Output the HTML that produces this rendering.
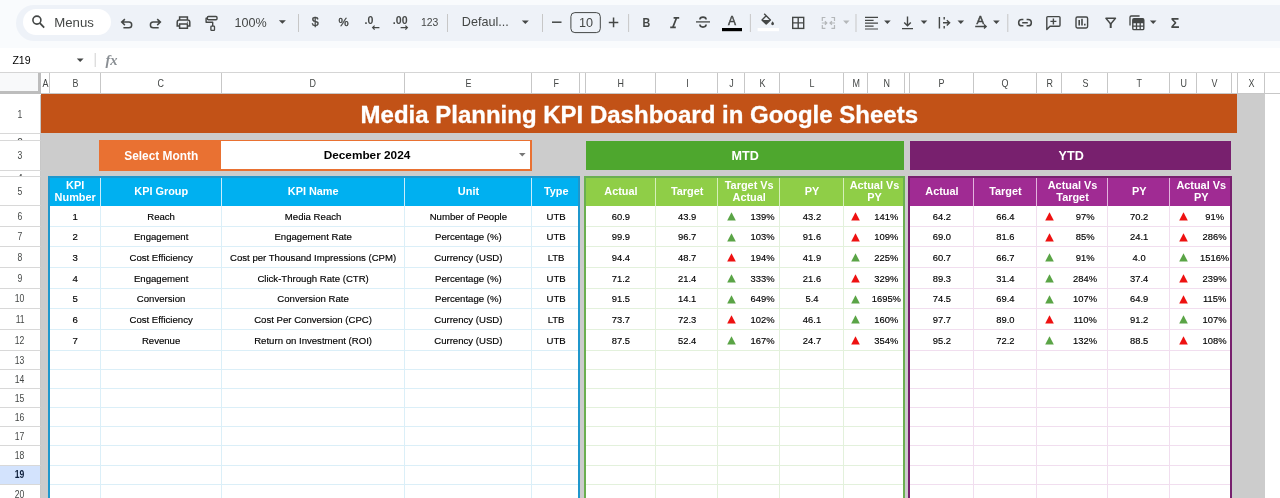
<!DOCTYPE html>
<html><head><meta charset="utf-8"><title>Media Planning KPI Dashboard</title>
<style>
html,body{margin:0;padding:0;}
body{width:1280px;height:498px;overflow:hidden;position:relative;background:#fff;font-family:"Liberation Sans",sans-serif;}
div{position:absolute;box-sizing:border-box;}
.c{display:flex;align-items:center;justify-content:center;text-align:center;white-space:nowrap;}
.ch{font-size:10.4px;color:#444746;}
.rh{font-size:10px;color:#444746;padding-top:0.8px;padding-left:0px;}
.sx{display:inline-block;transform:scaleX(0.86);}
.d{font-size:9.6px;color:#000;-webkit-text-stroke:0.15px #000;padding-left:1.2px;padding-top:0.5px;}
.n{font-size:9.4px;}
.hd{font-size:10.9px;padding-top:1px;padding-left:1.4px;font-weight:bold;color:#fff;line-height:12px;white-space:normal;}
svg{position:absolute;overflow:visible;}
.tb{font-size:12.5px;color:#444746;}
</style></head><body>

<div class="" style="left:0.00px;top:0.00px;width:1280.00px;height:72.00px;background:#f9fbfd;"></div>
<div class="" style="left:15.50px;top:5.00px;width:1274.50px;height:36.00px;background:#eef2f8;border-radius:18px 0 0 18px;"></div>
<div class="" style="left:22.50px;top:9.40px;width:88.70px;height:25.80px;background:#fff;border-radius:13px;"></div>
<div class="" style="left:0.00px;top:47.50px;width:1280.00px;height:24.50px;background:#fff;"></div>
<svg style="left:0;top:0" width="1280" height="72" viewBox="0 0 1280 72" fill="none" stroke="#444746" stroke-width="1.5" font-family="Liberation Sans, sans-serif">
<circle cx="36.9" cy="20.1" r="4.0" stroke-width="1.6"/><path d="M39.9 23.2L44.2 27.6" stroke-width="1.8"/>
<text x="54.3" y="26.6" font-size="13.2" fill="#444746" stroke="none">Menus</text>
<path d="M124.9 19.1L121.7 22.1L124.9 25.1M122.2 22.1H128.9A2.8 2.8 0 0 1 128.9 27.7H123.4" stroke-width="1.5"/>
<path d="M157.2 19.1L160.4 22.1L157.2 25.1M159.9 22.1H153.2A2.8 2.8 0 0 0 153.2 27.7H158.7" stroke-width="1.5"/>
<path d="M179.6 20V17H187.4V20M179.6 26H177.2V22.2A2.2 2.2 0 0 1 179.4 20H187.6A2.2 2.2 0 0 1 189.8 22.2V26H187.4M179.6 24H187.4V28.2H179.6Z" stroke-width="1.5"/><circle cx="187.4" cy="22.2" r="0.6" fill="#444746" stroke="none"/>
<rect x="207.4" y="16.5" width="9.6" height="3.2" rx="1" stroke-width="1.4"/><path d="M207.4 18.1H206.1V22.2H212.7V26" stroke-width="1.4" stroke-linejoin="round"/><rect x="210.9" y="26.2" width="3.6" height="4.2" rx="0.6" stroke-width="1.3"/>
<text x="234.6" y="27.2" font-size="12.6" fill="#444746" stroke="none">100%</text>
<path d="M278.9 20.3H285.9L282.4 23.8Z" fill="#444746" stroke="none"/>
<path d="M298.5 14V32" stroke="#c7c7c7" stroke-width="1"/>
<text x="315.3" y="26" font-size="12.4" fill="#444746" stroke="#444746" stroke-width="0.4" text-anchor="middle">$</text>
<text x="343.6" y="25.6" font-size="11.4" fill="#444746" stroke="#444746" stroke-width="0.4" text-anchor="middle">%</text>
<text x="364.6" y="24.2" font-size="10.6" font-weight="bold" fill="#444746" stroke="none">.0</text>
<path d="M379.4 27.6H372.6M374.6 25.6L372.6 27.6L374.6 29.6" stroke-width="1.2"/>
<text x="392.8" y="24.2" font-size="10.6" font-weight="bold" fill="#444746" stroke="none">.00</text>
<path d="M400.6 27.6H407.4M405.4 25.6L407.4 27.6L405.4 29.6" stroke-width="1.2"/>
<text x="429.7" y="25.6" font-size="10.4" fill="#444746" stroke="none" text-anchor="middle">123</text>
<path d="M447.5 14V32" stroke="#c7c7c7" stroke-width="1"/>
<text x="461.8" y="26" font-size="12.6" fill="#444746" stroke="none">Defaul...</text>
<path d="M521.8 20.5H528.8L525.3 24.0Z" fill="#444746" stroke="none"/>
<path d="M542.5 14V32" stroke="#c7c7c7" stroke-width="1"/>
<path d="M552 22.2H561.5" stroke-width="1.5"/>
<rect x="570.9" y="12.6" width="29.4" height="20" rx="4" stroke-width="1"/>
<text x="586" y="26.6" font-size="12.6" fill="#444746" stroke="none" text-anchor="middle">10</text>
<path d="M608.8 22.4H618.3M613.55 17.6V27.2" stroke-width="1.5"/>
<path d="M628.6 14V32" stroke="#c7c7c7" stroke-width="1"/>
<text transform="translate(646.3 27.1) scale(0.84 1)" x="0" y="0" font-size="12.8" font-weight="bold" fill="#444746" stroke="none" text-anchor="middle">B</text>
<path d="M673.6 17.8H679.2M670.2 27.4H675.8M676.6 17.8L672.8 27.4" stroke-width="1.7"/>
<path d="M696 21.9H710" stroke-width="1.3"/><path d="M706.1 19.6A3.1 2.5 0 0 0 699.9 19.6M699.9 24.6A3.1 2.5 0 0 0 706.1 24.6" stroke-width="1.6"/>
<text x="731.9" y="24.8" font-size="12" fill="#444746" stroke="#444746" stroke-width="0.45" text-anchor="middle">A</text>
<rect x="722" y="28" width="20" height="3.2" fill="#000" stroke="none"/>
<path d="M750.4 14V32" stroke="#c7c7c7" stroke-width="1"/>
<path d="M764.2 13.7L770.4 19.9L766.2 24.1L762 19.9L766.2 15.7" stroke-width="1.4" stroke-linejoin="round"/>
<path d="M762.2 20H770.2L766.2 24Z" fill="#444746" stroke="none"/>
<path d="M772.6 21.2C773.6 22.6 774 23.2 774 23.8A1.4 1.4 0 0 1 771.2 23.8C771.2 23.2 771.6 22.6 772.6 21.2Z" fill="#444746" stroke="none"/>
<rect x="757.6" y="28" width="21.4" height="3.2" fill="#fff" stroke="none"/>
<rect x="792.7" y="17.4" width="11" height="11" stroke-width="1.4"/><path d="M798.2 17.4V28.4M792.7 22.9H803.7" stroke-width="1.4"/>
<path d="M825.4 17.5H822.3V21M822.3 25V28.4H825.4M831.4 17.5H834.5V21M834.5 25V28.4H831.4M821.8 23H826.6M824.9 21.2L826.8 23L824.9 24.8M835 23H830.2M831.9 21.2L830 23L831.9 24.8" stroke="#b4b7b9" stroke-width="1.2"/>
<path d="M843.0999999999999 20.6H849.5L846.3 24.1Z" fill="#b4b7b9" stroke="none"/>
<path d="M856 14V32" stroke="#c7c7c7" stroke-width="1"/>
<path d="M865 17.4H878M865 20.3H873.6M865 23.2H878M865 26.1H873.6M865 29H878" stroke-width="1.2"/>
<path d="M884.1 20.6H890.6999999999999L887.4 24.1Z" fill="#444746" stroke="none"/>
<path d="M907.5 16.6V25.4M904.2 22.4L907.5 25.7L910.8 22.4M902 28.6H913" stroke-width="1.4"/>
<path d="M920.7 20.6H927.3L924 24.1Z" fill="#444746" stroke="none"/>
<path d="M939.4 17V28.6M944.2 17V19.6M944.2 26V28.6M943 22.8H949.6M946.8 20.2L949.6 22.8L946.8 25.4" stroke-width="1.4"/>
<path d="M957.5 20.6H964.0999999999999L960.8 24.1Z" fill="#444746" stroke="none"/>
<text x="980.2" y="23.9" font-size="11.4" fill="#444746" stroke="#444746" stroke-width="0.45" text-anchor="middle">A</text>
<path d="M975.2 26.5H986M984 24.5L986.2 26.5L984 28.5" stroke-width="1.3"/>
<path d="M993.1 20.6H999.6999999999999L996.4 24.1Z" fill="#444746" stroke="none"/>
<path d="M1007.8 14V32" stroke="#c7c7c7" stroke-width="1"/>
<path d="M1023.4 19.5H1021.8A3.15 3.15 0 0 0 1021.8 25.8H1023.4M1026.6 19.5H1028.2A3.15 3.15 0 0 1 1028.2 25.8H1026.6M1022.2 22.65H1027.8" stroke-width="1.5"/>
<path d="M1046.8 29.4V17.6A1 1 0 0 1 1047.8 16.6H1059A1 1 0 0 1 1060 17.6V25.2A1 1 0 0 1 1059 26.2H1050Z" stroke-width="1.4" stroke-linejoin="round"/><path d="M1050.4 21.4H1056.4M1053.4 18.4V24.4" stroke-width="1.4"/>
<rect x="1076" y="17" width="11.6" height="11" rx="1.4" stroke-width="1.4"/><path d="M1079.2 20V25.6M1082 18.8V25.6M1084.8 23.8V25.6" stroke-width="1.6"/>
<path d="M1105.9 18.3H1115.5L1110.7 24Z" stroke-width="1.4" stroke-linejoin="round"/><path d="M1110.7 23.4V28" stroke-width="2"/>
<path d="M1130 25.4V17.2A1.2 1.2 0 0 1 1131.2 16H1139.6" stroke-width="1.3"/><rect x="1132.8" y="18.8" width="11" height="10.8" rx="1.2" stroke-width="1.4"/>
<path d="M1132.8 22.6H1143.8M1132.8 26.1H1143.8M1136.5 22.4V29.6M1140.2 22.4V29.6" stroke-width="1.3"/><rect x="1132.8" y="18.8" width="11" height="3.6" fill="#444746" stroke="none"/>
<path d="M1149.9 20.6H1156.5L1153.2 24.1Z" fill="#444746" stroke="none"/>
<text x="1175" y="28.2" font-size="14.4" fill="#444746" stroke="none" text-anchor="middle" font-weight="bold">Σ</text>
<text x="12.4" y="63.7" font-size="10.6" fill="#000" stroke="none">Z19</text>
<path d="M76.8 58.5H83.60000000000001L80.2 62.0Z" fill="#444746" stroke="none"/>
<path d="M95.2 53V67" stroke="#d0d0d0" stroke-width="1"/>
<text x="105.4" y="64.6" font-size="14.6" font-style="italic" font-weight="bold" font-family="Liberation Serif, serif" fill="#8a8f94" stroke="none">fx</text>
</svg>
<div class="" style="left:0.00px;top:72.00px;width:1280.00px;height:426.00px;background:#fff;"></div>
<div class="" style="left:0.00px;top:72.00px;width:1280.00px;height:21.50px;background:#fff;border-top:1px solid #d5d5d5;border-bottom:1px solid #c7c7c7;"></div>
<div class="" style="left:0.00px;top:72.50px;width:41.20px;height:21.50px;background:#f8f9fa;border-right:3.6px solid #bdbdbd;border-bottom:3.6px solid #bdbdbd;"></div>
<div class="c ch" style="left:41.70px;top:73.40px;width:8.00px;height:20.80px;"><span class="sx">A</span></div>
<div class="" style="left:48.75px;top:73.00px;width:1.00px;height:20.00px;background:#c7c7c7;"></div>
<div class="c ch" style="left:49.70px;top:73.40px;width:51.00px;height:20.80px;"><span class="sx">B</span></div>
<div class="" style="left:99.75px;top:73.00px;width:1.00px;height:20.00px;background:#c7c7c7;"></div>
<div class="c ch" style="left:100.70px;top:73.40px;width:121.00px;height:20.80px;"><span class="sx">C</span></div>
<div class="" style="left:220.75px;top:73.00px;width:1.00px;height:20.00px;background:#c7c7c7;"></div>
<div class="c ch" style="left:221.70px;top:73.40px;width:183.00px;height:20.80px;"><span class="sx">D</span></div>
<div class="" style="left:403.75px;top:73.00px;width:1.00px;height:20.00px;background:#c7c7c7;"></div>
<div class="c ch" style="left:404.70px;top:73.40px;width:127.50px;height:20.80px;"><span class="sx">E</span></div>
<div class="" style="left:531.25px;top:73.00px;width:1.00px;height:20.00px;background:#c7c7c7;"></div>
<div class="c ch" style="left:532.20px;top:73.40px;width:48.00px;height:20.80px;"><span class="sx">F</span></div>
<div class="" style="left:579.25px;top:73.00px;width:1.00px;height:20.00px;background:#c7c7c7;"></div>
<div class="c ch" style="left:580.20px;top:73.40px;width:5.50px;height:20.80px;"><span class="sx"></span></div>
<div class="" style="left:584.75px;top:73.00px;width:1.00px;height:20.00px;background:#c7c7c7;"></div>
<div class="c ch" style="left:585.70px;top:73.40px;width:70.50px;height:20.80px;"><span class="sx">H</span></div>
<div class="" style="left:655.25px;top:73.00px;width:1.00px;height:20.00px;background:#c7c7c7;"></div>
<div class="c ch" style="left:656.20px;top:73.40px;width:62.00px;height:20.80px;"><span class="sx">I</span></div>
<div class="" style="left:717.25px;top:73.00px;width:1.00px;height:20.00px;background:#c7c7c7;"></div>
<div class="c ch" style="left:718.20px;top:73.40px;width:27.00px;height:20.80px;"><span class="sx">J</span></div>
<div class="" style="left:744.25px;top:73.00px;width:1.00px;height:20.00px;background:#c7c7c7;"></div>
<div class="c ch" style="left:745.20px;top:73.40px;width:35.00px;height:20.80px;"><span class="sx">K</span></div>
<div class="" style="left:779.25px;top:73.00px;width:1.00px;height:20.00px;background:#c7c7c7;"></div>
<div class="c ch" style="left:780.20px;top:73.40px;width:63.75px;height:20.80px;"><span class="sx">L</span></div>
<div class="" style="left:843.00px;top:73.00px;width:1.00px;height:20.00px;background:#c7c7c7;"></div>
<div class="c ch" style="left:843.95px;top:73.40px;width:24.00px;height:20.80px;"><span class="sx">M</span></div>
<div class="" style="left:867.00px;top:73.00px;width:1.00px;height:20.00px;background:#c7c7c7;"></div>
<div class="c ch" style="left:867.95px;top:73.40px;width:37.00px;height:20.80px;"><span class="sx">N</span></div>
<div class="" style="left:904.00px;top:73.00px;width:1.00px;height:20.00px;background:#c7c7c7;"></div>
<div class="c ch" style="left:904.95px;top:73.40px;width:5.00px;height:20.80px;"><span class="sx"></span></div>
<div class="" style="left:909.00px;top:73.00px;width:1.00px;height:20.00px;background:#c7c7c7;"></div>
<div class="c ch" style="left:909.95px;top:73.40px;width:64.00px;height:20.80px;"><span class="sx">P</span></div>
<div class="" style="left:973.00px;top:73.00px;width:1.00px;height:20.00px;background:#c7c7c7;"></div>
<div class="c ch" style="left:973.95px;top:73.40px;width:63.00px;height:20.80px;"><span class="sx">Q</span></div>
<div class="" style="left:1036.00px;top:73.00px;width:1.00px;height:20.00px;background:#c7c7c7;"></div>
<div class="c ch" style="left:1036.95px;top:73.40px;width:25.25px;height:20.80px;"><span class="sx">R</span></div>
<div class="" style="left:1061.25px;top:73.00px;width:1.00px;height:20.00px;background:#c7c7c7;"></div>
<div class="c ch" style="left:1062.20px;top:73.40px;width:46.00px;height:20.80px;"><span class="sx">S</span></div>
<div class="" style="left:1107.25px;top:73.00px;width:1.00px;height:20.00px;background:#c7c7c7;"></div>
<div class="c ch" style="left:1108.20px;top:73.40px;width:62.00px;height:20.80px;"><span class="sx">T</span></div>
<div class="" style="left:1169.25px;top:73.00px;width:1.00px;height:20.00px;background:#c7c7c7;"></div>
<div class="c ch" style="left:1170.20px;top:73.40px;width:27.00px;height:20.80px;"><span class="sx">U</span></div>
<div class="" style="left:1196.25px;top:73.00px;width:1.00px;height:20.00px;background:#c7c7c7;"></div>
<div class="c ch" style="left:1197.20px;top:73.40px;width:35.00px;height:20.80px;"><span class="sx">V</span></div>
<div class="" style="left:1231.25px;top:73.00px;width:1.00px;height:20.00px;background:#c7c7c7;"></div>
<div class="c ch" style="left:1232.20px;top:73.40px;width:6.00px;height:20.80px;"><span class="sx"></span></div>
<div class="" style="left:1237.25px;top:73.00px;width:1.00px;height:20.00px;background:#c7c7c7;"></div>
<div class="c ch" style="left:1238.20px;top:73.40px;width:27.00px;height:20.80px;"><span class="sx">X</span></div>
<div class="" style="left:1264.25px;top:73.00px;width:1.00px;height:20.00px;background:#c7c7c7;"></div>
<div class="c rh" style="left:0.00px;top:94.80px;width:41.00px;height:39.10px;border-bottom:1px solid #d8d8d8;border-right:1px solid #c7c7c7;background:#fff;"><span class="sx">1</span></div>
<div class="rh" style="left:0.00px;top:133.90px;width:41.00px;height:7.00px;border-bottom:1px solid #d8d8d8;border-right:1px solid #c7c7c7;background:#fff;overflow:hidden;"><span style="position:absolute;left:0;right:0;top:3.0px;text-align:center;line-height:11px">2</span></div>
<div class="c rh" style="left:0.00px;top:140.90px;width:41.00px;height:30.30px;border-bottom:1px solid #d8d8d8;border-right:1px solid #c7c7c7;background:#fff;"><span class="sx">3</span></div>
<div class="rh" style="left:0.00px;top:171.20px;width:41.00px;height:6.00px;border-bottom:1px solid #d8d8d8;border-right:1px solid #c7c7c7;background:#fff;overflow:hidden;"><span style="position:absolute;left:0;right:0;top:2.0px;text-align:center;line-height:11px">4</span></div>
<div class="c rh" style="left:0.00px;top:177.20px;width:41.00px;height:28.80px;border-bottom:1px solid #d8d8d8;border-right:1px solid #c7c7c7;background:#fff;"><span class="sx">5</span></div>
<div class="c rh" style="left:0.00px;top:206.00px;width:41.00px;height:20.67px;border-bottom:1px solid #d8d8d8;border-right:1px solid #c7c7c7;background:#fff;"><span class="sx">6</span></div>
<div class="c rh" style="left:0.00px;top:226.67px;width:41.00px;height:20.67px;border-bottom:1px solid #d8d8d8;border-right:1px solid #c7c7c7;background:#fff;"><span class="sx">7</span></div>
<div class="c rh" style="left:0.00px;top:247.34px;width:41.00px;height:20.67px;border-bottom:1px solid #d8d8d8;border-right:1px solid #c7c7c7;background:#fff;"><span class="sx">8</span></div>
<div class="c rh" style="left:0.00px;top:268.01px;width:41.00px;height:20.67px;border-bottom:1px solid #d8d8d8;border-right:1px solid #c7c7c7;background:#fff;"><span class="sx">9</span></div>
<div class="c rh" style="left:0.00px;top:288.68px;width:41.00px;height:20.67px;border-bottom:1px solid #d8d8d8;border-right:1px solid #c7c7c7;background:#fff;"><span class="sx">10</span></div>
<div class="c rh" style="left:0.00px;top:309.35px;width:41.00px;height:20.67px;border-bottom:1px solid #d8d8d8;border-right:1px solid #c7c7c7;background:#fff;"><span class="sx">11</span></div>
<div class="c rh" style="left:0.00px;top:330.02px;width:41.00px;height:20.67px;border-bottom:1px solid #d8d8d8;border-right:1px solid #c7c7c7;background:#fff;"><span class="sx">12</span></div>
<div class="c rh" style="left:0.00px;top:350.70px;width:41.00px;height:19.14px;border-bottom:1px solid #d8d8d8;border-right:1px solid #c7c7c7;background:#fff;"><span class="sx">13</span></div>
<div class="c rh" style="left:0.00px;top:369.84px;width:41.00px;height:19.14px;border-bottom:1px solid #d8d8d8;border-right:1px solid #c7c7c7;background:#fff;"><span class="sx">14</span></div>
<div class="c rh" style="left:0.00px;top:388.98px;width:41.00px;height:19.14px;border-bottom:1px solid #d8d8d8;border-right:1px solid #c7c7c7;background:#fff;"><span class="sx">15</span></div>
<div class="c rh" style="left:0.00px;top:408.12px;width:41.00px;height:19.14px;border-bottom:1px solid #d8d8d8;border-right:1px solid #c7c7c7;background:#fff;"><span class="sx">16</span></div>
<div class="c rh" style="left:0.00px;top:427.26px;width:41.00px;height:19.14px;border-bottom:1px solid #d8d8d8;border-right:1px solid #c7c7c7;background:#fff;"><span class="sx">17</span></div>
<div class="c rh" style="left:0.00px;top:446.40px;width:41.00px;height:19.14px;border-bottom:1px solid #d8d8d8;border-right:1px solid #c7c7c7;background:#fff;"><span class="sx">18</span></div>
<div class="c rh" style="left:0.00px;top:465.54px;width:41.00px;height:19.14px;border-bottom:1px solid #d8d8d8;border-right:1px solid #c7c7c7;background:#d3e3fd;font-weight:bold;color:#0b1d3a;"><span class="sx">19</span></div>
<div class="c rh" style="left:0.00px;top:484.68px;width:41.00px;height:19.14px;border-bottom:1px solid #d8d8d8;border-right:1px solid #c7c7c7;background:#fff;"><span class="sx">20</span></div>
<div class="" style="left:41.00px;top:94.00px;width:1223.50px;height:404.00px;background:#cccccc;"></div>
<div class="c" style="left:41.00px;top:94.40px;width:1196.00px;height:38.80px;background:#c25217;color:#fff;font-weight:bold;font-size:24px;padding-right:0px;"><span style="position:relative;left:0.3px;top:1.4px;-webkit-text-stroke:0.3px #fff">Media Planning KPI Dashboard in Google Sheets</span></div>
<div class="c" style="left:99.00px;top:139.80px;width:122.50px;height:30.80px;background:#e97132;color:#fff;font-weight:bold;font-size:11.9px;padding-left:2px;padding-top:1.6px;">Select Month</div>
<div class="c" style="left:220.80px;top:139.80px;width:311.20px;height:31.00px;background:#fff;border:2px solid #e97132;border-left:none;border-top-width:1.5px;color:#000;font-weight:bold;font-size:11.8px;"><span style="position:relative;left:-8.4px;top:0.6px">December 2024</span></div>
<svg style="left:518.5px;top:152.8px" width="7" height="4" viewBox="0 0 7 4"><path d="M0 0h6.6L3.3 3.6z" fill="#777"/></svg>
<div class="c" style="left:585.50px;top:141.00px;width:318.50px;height:29.00px;background:#4ea72e;color:#fff;font-weight:bold;font-size:12.6px;padding-top:1.6px;padding-left:1px;">MTD</div>
<div class="c" style="left:910.00px;top:141.00px;width:321.30px;height:28.80px;background:#78206e;color:#fff;font-weight:bold;font-size:12.6px;padding-top:1.6px;padding-left:1px;">YTD</div>
<div class="" style="left:48.00px;top:176.20px;width:532.20px;height:321.80px;background:#fff;"></div>
<div class="" style="left:48.00px;top:225.67px;width:532.20px;height:1.00px;background:#dbeff8;"></div>
<div class="" style="left:48.00px;top:246.34px;width:532.20px;height:1.00px;background:#dbeff8;"></div>
<div class="" style="left:48.00px;top:267.01px;width:532.20px;height:1.00px;background:#dbeff8;"></div>
<div class="" style="left:48.00px;top:287.68px;width:532.20px;height:1.00px;background:#dbeff8;"></div>
<div class="" style="left:48.00px;top:308.35px;width:532.20px;height:1.00px;background:#dbeff8;"></div>
<div class="" style="left:48.00px;top:329.02px;width:532.20px;height:1.00px;background:#dbeff8;"></div>
<div class="" style="left:48.00px;top:349.69px;width:532.20px;height:1.00px;background:#dbeff8;"></div>
<div class="" style="left:48.00px;top:368.84px;width:532.20px;height:1.00px;background:#dbeff8;"></div>
<div class="" style="left:48.00px;top:387.98px;width:532.20px;height:1.00px;background:#dbeff8;"></div>
<div class="" style="left:48.00px;top:407.12px;width:532.20px;height:1.00px;background:#dbeff8;"></div>
<div class="" style="left:48.00px;top:426.26px;width:532.20px;height:1.00px;background:#dbeff8;"></div>
<div class="" style="left:48.00px;top:445.40px;width:532.20px;height:1.00px;background:#dbeff8;"></div>
<div class="" style="left:48.00px;top:464.54px;width:532.20px;height:1.00px;background:#dbeff8;"></div>
<div class="" style="left:48.00px;top:483.68px;width:532.20px;height:1.00px;background:#dbeff8;"></div>
<div class="" style="left:99.50px;top:205.50px;width:1.00px;height:292.50px;background:#dbeff8;"></div>
<div class="" style="left:220.50px;top:205.50px;width:1.00px;height:292.50px;background:#dbeff8;"></div>
<div class="" style="left:403.50px;top:205.50px;width:1.00px;height:292.50px;background:#dbeff8;"></div>
<div class="" style="left:531.00px;top:205.50px;width:1.00px;height:292.50px;background:#dbeff8;"></div>
<div class="" style="left:48.00px;top:176.20px;width:532.20px;height:29.40px;background:#00b0f0;"></div>
<div class="c hd" style="left:49.00px;top:176.20px;width:51.00px;height:29.40px;">KPI<br>Number</div>
<div class="" style="left:99.50px;top:177.20px;width:1.20px;height:28.40px;background:#c9ecfb;"></div>
<div class="c hd" style="left:100.00px;top:176.20px;width:121.00px;height:29.40px;">KPI Group</div>
<div class="" style="left:220.50px;top:177.20px;width:1.20px;height:28.40px;background:#c9ecfb;"></div>
<div class="c hd" style="left:221.00px;top:176.20px;width:183.00px;height:29.40px;">KPI Name</div>
<div class="" style="left:403.50px;top:177.20px;width:1.20px;height:28.40px;background:#c9ecfb;"></div>
<div class="c hd" style="left:404.00px;top:176.20px;width:127.50px;height:29.40px;">Unit</div>
<div class="" style="left:531.00px;top:177.20px;width:1.20px;height:28.40px;background:#c9ecfb;"></div>
<div class="c hd" style="left:531.50px;top:176.20px;width:48.00px;height:29.40px;">Type</div>
<div class="" style="left:48.00px;top:176.20px;width:532.20px;height:343.80px;border:2px solid #1f97cc;border-bottom:none;"></div>
<div class="" style="left:584.00px;top:176.20px;width:320.95px;height:321.80px;background:#fff;"></div>
<div class="" style="left:584.00px;top:225.67px;width:320.95px;height:1.00px;background:#e3f1dc;"></div>
<div class="" style="left:584.00px;top:246.34px;width:320.95px;height:1.00px;background:#e3f1dc;"></div>
<div class="" style="left:584.00px;top:267.01px;width:320.95px;height:1.00px;background:#e3f1dc;"></div>
<div class="" style="left:584.00px;top:287.68px;width:320.95px;height:1.00px;background:#e3f1dc;"></div>
<div class="" style="left:584.00px;top:308.35px;width:320.95px;height:1.00px;background:#e3f1dc;"></div>
<div class="" style="left:584.00px;top:329.02px;width:320.95px;height:1.00px;background:#e3f1dc;"></div>
<div class="" style="left:584.00px;top:349.69px;width:320.95px;height:1.00px;background:#e3f1dc;"></div>
<div class="" style="left:584.00px;top:368.84px;width:320.95px;height:1.00px;background:#e3f1dc;"></div>
<div class="" style="left:584.00px;top:387.98px;width:320.95px;height:1.00px;background:#e3f1dc;"></div>
<div class="" style="left:584.00px;top:407.12px;width:320.95px;height:1.00px;background:#e3f1dc;"></div>
<div class="" style="left:584.00px;top:426.26px;width:320.95px;height:1.00px;background:#e3f1dc;"></div>
<div class="" style="left:584.00px;top:445.40px;width:320.95px;height:1.00px;background:#e3f1dc;"></div>
<div class="" style="left:584.00px;top:464.54px;width:320.95px;height:1.00px;background:#e3f1dc;"></div>
<div class="" style="left:584.00px;top:483.68px;width:320.95px;height:1.00px;background:#e3f1dc;"></div>
<div class="" style="left:655.00px;top:205.50px;width:1.00px;height:292.50px;background:#e3f1dc;"></div>
<div class="" style="left:717.00px;top:205.50px;width:1.00px;height:292.50px;background:#e3f1dc;"></div>
<div class="" style="left:779.00px;top:205.50px;width:1.00px;height:292.50px;background:#e3f1dc;"></div>
<div class="" style="left:842.75px;top:205.50px;width:1.00px;height:292.50px;background:#e3f1dc;"></div>
<div class="" style="left:584.00px;top:176.20px;width:320.95px;height:29.40px;background:#8fce47;"></div>
<div class="c hd" style="left:585.00px;top:176.20px;width:70.50px;height:29.40px;">Actual</div>
<div class="" style="left:655.00px;top:177.20px;width:1.20px;height:28.40px;background:#d5efba;"></div>
<div class="c hd" style="left:655.50px;top:176.20px;width:62.00px;height:29.40px;">Target</div>
<div class="" style="left:717.00px;top:177.20px;width:1.20px;height:28.40px;background:#d5efba;"></div>
<div class="c hd" style="left:717.50px;top:176.20px;width:62.00px;height:29.40px;">Target Vs<br>Actual</div>
<div class="" style="left:779.00px;top:177.20px;width:1.20px;height:28.40px;background:#d5efba;"></div>
<div class="c hd" style="left:779.50px;top:176.20px;width:63.75px;height:29.40px;">PY</div>
<div class="" style="left:842.75px;top:177.20px;width:1.20px;height:28.40px;background:#d5efba;"></div>
<div class="c hd" style="left:843.25px;top:176.20px;width:61.00px;height:29.40px;">Actual Vs<br>PY</div>
<div class="" style="left:584.00px;top:176.20px;width:320.95px;height:343.80px;border:2px solid #6aaf50;border-bottom:none;"></div>
<div class="" style="left:908.25px;top:176.20px;width:323.95px;height:321.80px;background:#fff;"></div>
<div class="" style="left:908.25px;top:225.67px;width:323.95px;height:1.00px;background:#f1deef;"></div>
<div class="" style="left:908.25px;top:246.34px;width:323.95px;height:1.00px;background:#f1deef;"></div>
<div class="" style="left:908.25px;top:267.01px;width:323.95px;height:1.00px;background:#f1deef;"></div>
<div class="" style="left:908.25px;top:287.68px;width:323.95px;height:1.00px;background:#f1deef;"></div>
<div class="" style="left:908.25px;top:308.35px;width:323.95px;height:1.00px;background:#f1deef;"></div>
<div class="" style="left:908.25px;top:329.02px;width:323.95px;height:1.00px;background:#f1deef;"></div>
<div class="" style="left:908.25px;top:349.69px;width:323.95px;height:1.00px;background:#f1deef;"></div>
<div class="" style="left:908.25px;top:368.84px;width:323.95px;height:1.00px;background:#f1deef;"></div>
<div class="" style="left:908.25px;top:387.98px;width:323.95px;height:1.00px;background:#f1deef;"></div>
<div class="" style="left:908.25px;top:407.12px;width:323.95px;height:1.00px;background:#f1deef;"></div>
<div class="" style="left:908.25px;top:426.26px;width:323.95px;height:1.00px;background:#f1deef;"></div>
<div class="" style="left:908.25px;top:445.40px;width:323.95px;height:1.00px;background:#f1deef;"></div>
<div class="" style="left:908.25px;top:464.54px;width:323.95px;height:1.00px;background:#f1deef;"></div>
<div class="" style="left:908.25px;top:483.68px;width:323.95px;height:1.00px;background:#f1deef;"></div>
<div class="" style="left:972.75px;top:205.50px;width:1.00px;height:292.50px;background:#f1deef;"></div>
<div class="" style="left:1035.75px;top:205.50px;width:1.00px;height:292.50px;background:#f1deef;"></div>
<div class="" style="left:1107.00px;top:205.50px;width:1.00px;height:292.50px;background:#f1deef;"></div>
<div class="" style="left:1169.00px;top:205.50px;width:1.00px;height:292.50px;background:#f1deef;"></div>
<div class="" style="left:908.25px;top:176.20px;width:323.95px;height:29.40px;background:#a02b93;"></div>
<div class="c hd" style="left:909.25px;top:176.20px;width:64.00px;height:29.40px;">Actual</div>
<div class="" style="left:972.75px;top:177.20px;width:1.20px;height:28.40px;background:#e3b4de;"></div>
<div class="c hd" style="left:973.25px;top:176.20px;width:63.00px;height:29.40px;">Target</div>
<div class="" style="left:1035.75px;top:177.20px;width:1.20px;height:28.40px;background:#e3b4de;"></div>
<div class="c hd" style="left:1036.25px;top:176.20px;width:71.25px;height:29.40px;">Actual Vs<br>Target</div>
<div class="" style="left:1107.00px;top:177.20px;width:1.20px;height:28.40px;background:#e3b4de;"></div>
<div class="c hd" style="left:1107.50px;top:176.20px;width:62.00px;height:29.40px;">PY</div>
<div class="" style="left:1169.00px;top:177.20px;width:1.20px;height:28.40px;background:#e3b4de;"></div>
<div class="c hd" style="left:1169.50px;top:176.20px;width:62.00px;height:29.40px;">Actual Vs<br>PY</div>
<div class="" style="left:908.25px;top:176.20px;width:323.95px;height:343.80px;border:2px solid #78206e;border-bottom:none;"></div>
<div class="c d" style="left:49.00px;top:205.50px;width:51.00px;height:20.67px;">1</div>
<div class="c d" style="left:100.00px;top:205.50px;width:121.00px;height:20.67px;">Reach</div>
<div class="c d" style="left:221.00px;top:205.50px;width:183.00px;height:20.67px;">Media Reach</div>
<div class="c d" style="left:404.00px;top:205.50px;width:127.50px;height:20.67px;">Number of People</div>
<div class="c d" style="left:531.50px;top:205.50px;width:48.00px;height:20.67px;">UTB</div>
<div class="c d n" style="left:585.00px;top:205.50px;width:70.50px;height:20.67px;">60.9</div>
<div class="c d n" style="left:655.50px;top:205.50px;width:62.00px;height:20.67px;">43.9</div>
<svg style="left:727.00px;top:212.03px" width="9" height="9" viewBox="0 0 9 9"><path d="M4.5 0.3L8.8 8.6H0.2z" fill="#5aa446"/></svg>
<div class="c d n" style="left:744.50px;top:205.50px;width:35.00px;height:20.67px;">139%</div>
<div class="c d n" style="left:779.50px;top:205.50px;width:63.75px;height:20.67px;">43.2</div>
<svg style="left:851.00px;top:212.03px" width="9" height="9" viewBox="0 0 9 9"><path d="M4.5 0.3L8.8 8.6H0.2z" fill="#ee1111"/></svg>
<div class="c d n" style="left:867.25px;top:205.50px;width:37.00px;height:20.67px;">141%</div>
<div class="c d n" style="left:909.25px;top:205.50px;width:64.00px;height:20.67px;">64.2</div>
<div class="c d n" style="left:973.25px;top:205.50px;width:63.00px;height:20.67px;">66.4</div>
<svg style="left:1044.50px;top:212.03px" width="9" height="9" viewBox="0 0 9 9"><path d="M4.5 0.3L8.8 8.6H0.2z" fill="#ee1111"/></svg>
<div class="c d n" style="left:1061.50px;top:205.50px;width:46.00px;height:20.67px;">97%</div>
<div class="c d n" style="left:1107.50px;top:205.50px;width:62.00px;height:20.67px;">70.2</div>
<svg style="left:1179.00px;top:212.03px" width="9" height="9" viewBox="0 0 9 9"><path d="M4.5 0.3L8.8 8.6H0.2z" fill="#ee1111"/></svg>
<div class="c d n" style="left:1196.50px;top:205.50px;width:35.00px;height:20.67px;">91%</div>
<div class="c d" style="left:49.00px;top:226.17px;width:51.00px;height:20.67px;">2</div>
<div class="c d" style="left:100.00px;top:226.17px;width:121.00px;height:20.67px;">Engagement</div>
<div class="c d" style="left:221.00px;top:226.17px;width:183.00px;height:20.67px;">Engagement Rate</div>
<div class="c d" style="left:404.00px;top:226.17px;width:127.50px;height:20.67px;">Percentage (%)</div>
<div class="c d" style="left:531.50px;top:226.17px;width:48.00px;height:20.67px;">UTB</div>
<div class="c d n" style="left:585.00px;top:226.17px;width:70.50px;height:20.67px;">99.9</div>
<div class="c d n" style="left:655.50px;top:226.17px;width:62.00px;height:20.67px;">96.7</div>
<svg style="left:727.00px;top:232.71px" width="9" height="9" viewBox="0 0 9 9"><path d="M4.5 0.3L8.8 8.6H0.2z" fill="#5aa446"/></svg>
<div class="c d n" style="left:744.50px;top:226.17px;width:35.00px;height:20.67px;">103%</div>
<div class="c d n" style="left:779.50px;top:226.17px;width:63.75px;height:20.67px;">91.6</div>
<svg style="left:851.00px;top:232.71px" width="9" height="9" viewBox="0 0 9 9"><path d="M4.5 0.3L8.8 8.6H0.2z" fill="#ee1111"/></svg>
<div class="c d n" style="left:867.25px;top:226.17px;width:37.00px;height:20.67px;">109%</div>
<div class="c d n" style="left:909.25px;top:226.17px;width:64.00px;height:20.67px;">69.0</div>
<div class="c d n" style="left:973.25px;top:226.17px;width:63.00px;height:20.67px;">81.6</div>
<svg style="left:1044.50px;top:232.71px" width="9" height="9" viewBox="0 0 9 9"><path d="M4.5 0.3L8.8 8.6H0.2z" fill="#ee1111"/></svg>
<div class="c d n" style="left:1061.50px;top:226.17px;width:46.00px;height:20.67px;">85%</div>
<div class="c d n" style="left:1107.50px;top:226.17px;width:62.00px;height:20.67px;">24.1</div>
<svg style="left:1179.00px;top:232.71px" width="9" height="9" viewBox="0 0 9 9"><path d="M4.5 0.3L8.8 8.6H0.2z" fill="#ee1111"/></svg>
<div class="c d n" style="left:1196.50px;top:226.17px;width:35.00px;height:20.67px;">286%</div>
<div class="c d" style="left:49.00px;top:246.84px;width:51.00px;height:20.67px;">3</div>
<div class="c d" style="left:100.00px;top:246.84px;width:121.00px;height:20.67px;">Cost Efficiency</div>
<div class="c d" style="left:221.00px;top:246.84px;width:183.00px;height:20.67px;">Cost per Thousand Impressions (CPM)</div>
<div class="c d" style="left:404.00px;top:246.84px;width:127.50px;height:20.67px;">Currency (USD)</div>
<div class="c d" style="left:531.50px;top:246.84px;width:48.00px;height:20.67px;">LTB</div>
<div class="c d n" style="left:585.00px;top:246.84px;width:70.50px;height:20.67px;">94.4</div>
<div class="c d n" style="left:655.50px;top:246.84px;width:62.00px;height:20.67px;">48.7</div>
<svg style="left:727.00px;top:253.38px" width="9" height="9" viewBox="0 0 9 9"><path d="M4.5 0.3L8.8 8.6H0.2z" fill="#ee1111"/></svg>
<div class="c d n" style="left:744.50px;top:246.84px;width:35.00px;height:20.67px;">194%</div>
<div class="c d n" style="left:779.50px;top:246.84px;width:63.75px;height:20.67px;">41.9</div>
<svg style="left:851.00px;top:253.38px" width="9" height="9" viewBox="0 0 9 9"><path d="M4.5 0.3L8.8 8.6H0.2z" fill="#5aa446"/></svg>
<div class="c d n" style="left:867.25px;top:246.84px;width:37.00px;height:20.67px;">225%</div>
<div class="c d n" style="left:909.25px;top:246.84px;width:64.00px;height:20.67px;">60.7</div>
<div class="c d n" style="left:973.25px;top:246.84px;width:63.00px;height:20.67px;">66.7</div>
<svg style="left:1044.50px;top:253.38px" width="9" height="9" viewBox="0 0 9 9"><path d="M4.5 0.3L8.8 8.6H0.2z" fill="#5aa446"/></svg>
<div class="c d n" style="left:1061.50px;top:246.84px;width:46.00px;height:20.67px;">91%</div>
<div class="c d n" style="left:1107.50px;top:246.84px;width:62.00px;height:20.67px;">4.0</div>
<svg style="left:1179.00px;top:253.38px" width="9" height="9" viewBox="0 0 9 9"><path d="M4.5 0.3L8.8 8.6H0.2z" fill="#5aa446"/></svg>
<div class="c d n" style="left:1196.50px;top:246.84px;width:35.00px;height:20.67px;">1516%</div>
<div class="c d" style="left:49.00px;top:267.51px;width:51.00px;height:20.67px;">4</div>
<div class="c d" style="left:100.00px;top:267.51px;width:121.00px;height:20.67px;">Engagement</div>
<div class="c d" style="left:221.00px;top:267.51px;width:183.00px;height:20.67px;">Click-Through Rate (CTR)</div>
<div class="c d" style="left:404.00px;top:267.51px;width:127.50px;height:20.67px;">Percentage (%)</div>
<div class="c d" style="left:531.50px;top:267.51px;width:48.00px;height:20.67px;">UTB</div>
<div class="c d n" style="left:585.00px;top:267.51px;width:70.50px;height:20.67px;">71.2</div>
<div class="c d n" style="left:655.50px;top:267.51px;width:62.00px;height:20.67px;">21.4</div>
<svg style="left:727.00px;top:274.05px" width="9" height="9" viewBox="0 0 9 9"><path d="M4.5 0.3L8.8 8.6H0.2z" fill="#5aa446"/></svg>
<div class="c d n" style="left:744.50px;top:267.51px;width:35.00px;height:20.67px;">333%</div>
<div class="c d n" style="left:779.50px;top:267.51px;width:63.75px;height:20.67px;">21.6</div>
<svg style="left:851.00px;top:274.05px" width="9" height="9" viewBox="0 0 9 9"><path d="M4.5 0.3L8.8 8.6H0.2z" fill="#ee1111"/></svg>
<div class="c d n" style="left:867.25px;top:267.51px;width:37.00px;height:20.67px;">329%</div>
<div class="c d n" style="left:909.25px;top:267.51px;width:64.00px;height:20.67px;">89.3</div>
<div class="c d n" style="left:973.25px;top:267.51px;width:63.00px;height:20.67px;">31.4</div>
<svg style="left:1044.50px;top:274.05px" width="9" height="9" viewBox="0 0 9 9"><path d="M4.5 0.3L8.8 8.6H0.2z" fill="#5aa446"/></svg>
<div class="c d n" style="left:1061.50px;top:267.51px;width:46.00px;height:20.67px;">284%</div>
<div class="c d n" style="left:1107.50px;top:267.51px;width:62.00px;height:20.67px;">37.4</div>
<svg style="left:1179.00px;top:274.05px" width="9" height="9" viewBox="0 0 9 9"><path d="M4.5 0.3L8.8 8.6H0.2z" fill="#ee1111"/></svg>
<div class="c d n" style="left:1196.50px;top:267.51px;width:35.00px;height:20.67px;">239%</div>
<div class="c d" style="left:49.00px;top:288.18px;width:51.00px;height:20.67px;">5</div>
<div class="c d" style="left:100.00px;top:288.18px;width:121.00px;height:20.67px;">Conversion</div>
<div class="c d" style="left:221.00px;top:288.18px;width:183.00px;height:20.67px;">Conversion Rate</div>
<div class="c d" style="left:404.00px;top:288.18px;width:127.50px;height:20.67px;">Percentage (%)</div>
<div class="c d" style="left:531.50px;top:288.18px;width:48.00px;height:20.67px;">UTB</div>
<div class="c d n" style="left:585.00px;top:288.18px;width:70.50px;height:20.67px;">91.5</div>
<div class="c d n" style="left:655.50px;top:288.18px;width:62.00px;height:20.67px;">14.1</div>
<svg style="left:727.00px;top:294.72px" width="9" height="9" viewBox="0 0 9 9"><path d="M4.5 0.3L8.8 8.6H0.2z" fill="#5aa446"/></svg>
<div class="c d n" style="left:744.50px;top:288.18px;width:35.00px;height:20.67px;">649%</div>
<div class="c d n" style="left:779.50px;top:288.18px;width:63.75px;height:20.67px;">5.4</div>
<svg style="left:851.00px;top:294.72px" width="9" height="9" viewBox="0 0 9 9"><path d="M4.5 0.3L8.8 8.6H0.2z" fill="#5aa446"/></svg>
<div class="c d n" style="left:867.25px;top:288.18px;width:37.00px;height:20.67px;">1695%</div>
<div class="c d n" style="left:909.25px;top:288.18px;width:64.00px;height:20.67px;">74.5</div>
<div class="c d n" style="left:973.25px;top:288.18px;width:63.00px;height:20.67px;">69.4</div>
<svg style="left:1044.50px;top:294.72px" width="9" height="9" viewBox="0 0 9 9"><path d="M4.5 0.3L8.8 8.6H0.2z" fill="#5aa446"/></svg>
<div class="c d n" style="left:1061.50px;top:288.18px;width:46.00px;height:20.67px;">107%</div>
<div class="c d n" style="left:1107.50px;top:288.18px;width:62.00px;height:20.67px;">64.9</div>
<svg style="left:1179.00px;top:294.72px" width="9" height="9" viewBox="0 0 9 9"><path d="M4.5 0.3L8.8 8.6H0.2z" fill="#ee1111"/></svg>
<div class="c d n" style="left:1196.50px;top:288.18px;width:35.00px;height:20.67px;">115%</div>
<div class="c d" style="left:49.00px;top:308.85px;width:51.00px;height:20.67px;">6</div>
<div class="c d" style="left:100.00px;top:308.85px;width:121.00px;height:20.67px;">Cost Efficiency</div>
<div class="c d" style="left:221.00px;top:308.85px;width:183.00px;height:20.67px;">Cost Per Conversion (CPC)</div>
<div class="c d" style="left:404.00px;top:308.85px;width:127.50px;height:20.67px;">Currency (USD)</div>
<div class="c d" style="left:531.50px;top:308.85px;width:48.00px;height:20.67px;">LTB</div>
<div class="c d n" style="left:585.00px;top:308.85px;width:70.50px;height:20.67px;">73.7</div>
<div class="c d n" style="left:655.50px;top:308.85px;width:62.00px;height:20.67px;">72.3</div>
<svg style="left:727.00px;top:315.39px" width="9" height="9" viewBox="0 0 9 9"><path d="M4.5 0.3L8.8 8.6H0.2z" fill="#ee1111"/></svg>
<div class="c d n" style="left:744.50px;top:308.85px;width:35.00px;height:20.67px;">102%</div>
<div class="c d n" style="left:779.50px;top:308.85px;width:63.75px;height:20.67px;">46.1</div>
<svg style="left:851.00px;top:315.39px" width="9" height="9" viewBox="0 0 9 9"><path d="M4.5 0.3L8.8 8.6H0.2z" fill="#5aa446"/></svg>
<div class="c d n" style="left:867.25px;top:308.85px;width:37.00px;height:20.67px;">160%</div>
<div class="c d n" style="left:909.25px;top:308.85px;width:64.00px;height:20.67px;">97.7</div>
<div class="c d n" style="left:973.25px;top:308.85px;width:63.00px;height:20.67px;">89.0</div>
<svg style="left:1044.50px;top:315.39px" width="9" height="9" viewBox="0 0 9 9"><path d="M4.5 0.3L8.8 8.6H0.2z" fill="#ee1111"/></svg>
<div class="c d n" style="left:1061.50px;top:308.85px;width:46.00px;height:20.67px;">110%</div>
<div class="c d n" style="left:1107.50px;top:308.85px;width:62.00px;height:20.67px;">91.2</div>
<svg style="left:1179.00px;top:315.39px" width="9" height="9" viewBox="0 0 9 9"><path d="M4.5 0.3L8.8 8.6H0.2z" fill="#5aa446"/></svg>
<div class="c d n" style="left:1196.50px;top:308.85px;width:35.00px;height:20.67px;">107%</div>
<div class="c d" style="left:49.00px;top:329.52px;width:51.00px;height:20.67px;">7</div>
<div class="c d" style="left:100.00px;top:329.52px;width:121.00px;height:20.67px;">Revenue</div>
<div class="c d" style="left:221.00px;top:329.52px;width:183.00px;height:20.67px;">Return on Investment (ROI)</div>
<div class="c d" style="left:404.00px;top:329.52px;width:127.50px;height:20.67px;">Currency (USD)</div>
<div class="c d" style="left:531.50px;top:329.52px;width:48.00px;height:20.67px;">UTB</div>
<div class="c d n" style="left:585.00px;top:329.52px;width:70.50px;height:20.67px;">87.5</div>
<div class="c d n" style="left:655.50px;top:329.52px;width:62.00px;height:20.67px;">52.4</div>
<svg style="left:727.00px;top:336.06px" width="9" height="9" viewBox="0 0 9 9"><path d="M4.5 0.3L8.8 8.6H0.2z" fill="#5aa446"/></svg>
<div class="c d n" style="left:744.50px;top:329.52px;width:35.00px;height:20.67px;">167%</div>
<div class="c d n" style="left:779.50px;top:329.52px;width:63.75px;height:20.67px;">24.7</div>
<svg style="left:851.00px;top:336.06px" width="9" height="9" viewBox="0 0 9 9"><path d="M4.5 0.3L8.8 8.6H0.2z" fill="#ee1111"/></svg>
<div class="c d n" style="left:867.25px;top:329.52px;width:37.00px;height:20.67px;">354%</div>
<div class="c d n" style="left:909.25px;top:329.52px;width:64.00px;height:20.67px;">95.2</div>
<div class="c d n" style="left:973.25px;top:329.52px;width:63.00px;height:20.67px;">72.2</div>
<svg style="left:1044.50px;top:336.06px" width="9" height="9" viewBox="0 0 9 9"><path d="M4.5 0.3L8.8 8.6H0.2z" fill="#5aa446"/></svg>
<div class="c d n" style="left:1061.50px;top:329.52px;width:46.00px;height:20.67px;">132%</div>
<div class="c d n" style="left:1107.50px;top:329.52px;width:62.00px;height:20.67px;">88.5</div>
<svg style="left:1179.00px;top:336.06px" width="9" height="9" viewBox="0 0 9 9"><path d="M4.5 0.3L8.8 8.6H0.2z" fill="#ee1111"/></svg>
<div class="c d n" style="left:1196.50px;top:329.52px;width:35.00px;height:20.67px;">108%</div>
</body></html>
